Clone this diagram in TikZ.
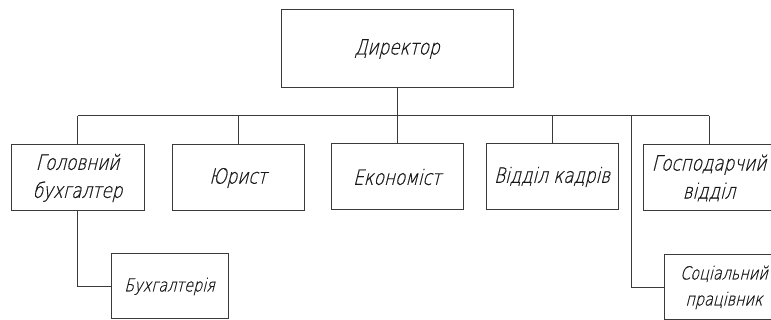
\documentclass[tikz,border=0pt]{standalone}
\usepackage{fontspec}
\newfontfamily\gost{DejaVu Sans ExtraLight}[FakeSlant=0.25,FakeStretch=0.8,FakeBold=0.6]
\definecolor{linegray}{RGB}{58,58,58}
\definecolor{textgray}{RGB}{25,25,25}
\tikzset{
  unit/.style={draw=linegray, line width=1pt, inner sep=0pt, align=center,
    text=textgray, font=\gost\fontsize{21}{28}\selectfont},
  small/.style={font=\gost\fontsize{18}{26}\selectfont},
  link/.style={draw=linegray, line width=1pt}
}
\begin{document}
\begin{tikzpicture}[x=1pt, y=-1pt]
  \useasboundingbox (0,0) rectangle (771,320);
  \fill[white] (0,0) rectangle (771,320);

  % top level
  \node[unit, minimum width=232, minimum height=78] (dir) at (397,49) {Директор};

  % second level
  \node[unit, minimum width=133, minimum height=66] (chief) at (77.5,178) {Головний\\бухгалтер};
  \node[unit, minimum width=132, minimum height=66] (lawyer) at (238,178) {Юрист};
  \node[unit, minimum width=132, minimum height=66] (econ) at (397,177) {Економіст};
  \node[unit, minimum width=132, minimum height=66] (hr) at (552,177) {Відділ кадрів};
  \node[unit, minimum width=132, minimum height=66] (eco) at (709,178) {Господарчий\\відділ};

  % third level
  \node[unit, small, minimum width=117, minimum height=65] (acc) at (169.5,286.5) {Бухгалтерія};
  \node[unit, small, minimum width=120, minimum height=65] (soc) at (724,287.5) {Соціальний\\працівник};

  % bus line
  \coordinate (busL) at (chief.north |- 0,116);
  \coordinate (busR) at (eco.north |- 0,116);
  \coordinate (busS) at (631,116);
  \draw[link] (dir.south) -- (dir.south |- busL);
  \draw[link] (busL) -- (busR);
  \foreach \n in {chief, lawyer, econ, hr, eco}
    \draw[link] (\n.north |- busL) -- (\n.north);

  % lower branches
  \draw[link] (chief.south) |- (acc.west);
  \draw[link] (busS) |- (soc.west);
\end{tikzpicture}
\end{document}
